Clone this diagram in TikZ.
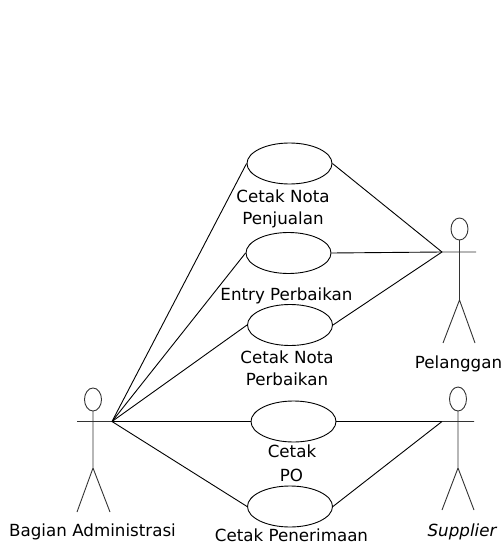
\documentclass[tikz,border=0pt]{standalone}
\usepackage{fontspec}
\setmainfont{DejaVu Sans}
\usetikzlibrary{shapes.geometric}
\begin{document}
\begin{tikzpicture}[x=1pt,y=-1pt,
  usecase/.style={draw,ellipse,line width=0.9pt,minimum width=85pt,minimum height=41pt,inner sep=0pt},
  lbl/.style={anchor=base,inner sep=0pt,font=\fontsize{16.7}{22}\selectfont},
  assoc/.style={line width=0.9pt},
  stick/.style={line width=0.9pt,draw=black!80}]
\useasboundingbox (0,0) rectangle (502,545);

% use cases
\node[usecase] (uc1) at (289.5,163.5) {};
\node[usecase] (uc2) at (288.5,253) {};
\node[usecase] (uc3) at (290,325) {};
\node[usecase] (uc4) at (293.5,421.5) {};
\node[usecase] (uc5) at (290,506.5) {};

\node[lbl] (t1a) at (283,203) {Cetak Nota};
\node[lbl] (t1b) at (283,224) {Penjualan};
\node[lbl] (t2)  at (286.5,300) {Entry Perbaikan};
\node[lbl] (t3a) at (287,363) {Cetak Nota};
\node[lbl] (t3b) at (287,385) {Perbaikan};
\node[lbl] (t4a) at (292,457) {Cetak};
\node[lbl] (t4b) at (291.5,481) {PO};
\node[lbl] (t5)  at (291.5,541) {Cetak Penerimaan};

% actor: Bagian Administrasi
\draw[stick] (93,399.5) ellipse [x radius=8.5,y radius=11.5];
\draw[stick] (93,411) -- (93,468) (77,421.5) -- (112,421.5)
  (77,512) -- (93,468) -- (110,512);
\coordinate (adm) at (112,421.5);
\node[lbl] (nadm) at (92.5,536) {Bagian Administrasi};

% actor: Pelanggan
\draw[stick] (459.5,229) ellipse [x radius=8.5,y radius=11];
\draw[stick] (459.5,240) -- (459.5,300) (442,252) -- (476,252)
  (443,343) -- (459.5,300) -- (475,343);
\coordinate (pel) at (442,252);
\node[lbl] (npel) at (458.5,368) {Pelanggan};

% actor: Supplier
\draw[stick] (458,399) ellipse [x radius=8.5,y radius=12];
\draw[stick] (458,411) -- (458,468) (442,421.5) -- (474,421.5)
  (442,510) -- (458,468) -- (474,510);
\coordinate (sup) at (442,421.5);
\node[lbl,font=\fontsize{16.7}{22}\selectfont\itshape] (nsup) at (462,536) {Supplier};

% associations
\draw[assoc] (adm) -- (uc1.west);
\draw[assoc] (adm) -- (uc2.west);
\draw[assoc] (adm) -- (uc3.west);
\draw[assoc] (adm) -- (uc4.west);
\draw[assoc] (adm) -- (uc5.west);
\draw[assoc] (pel) -- (uc1.east);
\draw[assoc] (pel) -- (uc2.east);
\draw[assoc] (pel) -- (uc3.east);
\draw[assoc] (sup) -- (uc4.east);
\draw[assoc] (sup) -- (uc5.east);
\end{tikzpicture}
\end{document}
